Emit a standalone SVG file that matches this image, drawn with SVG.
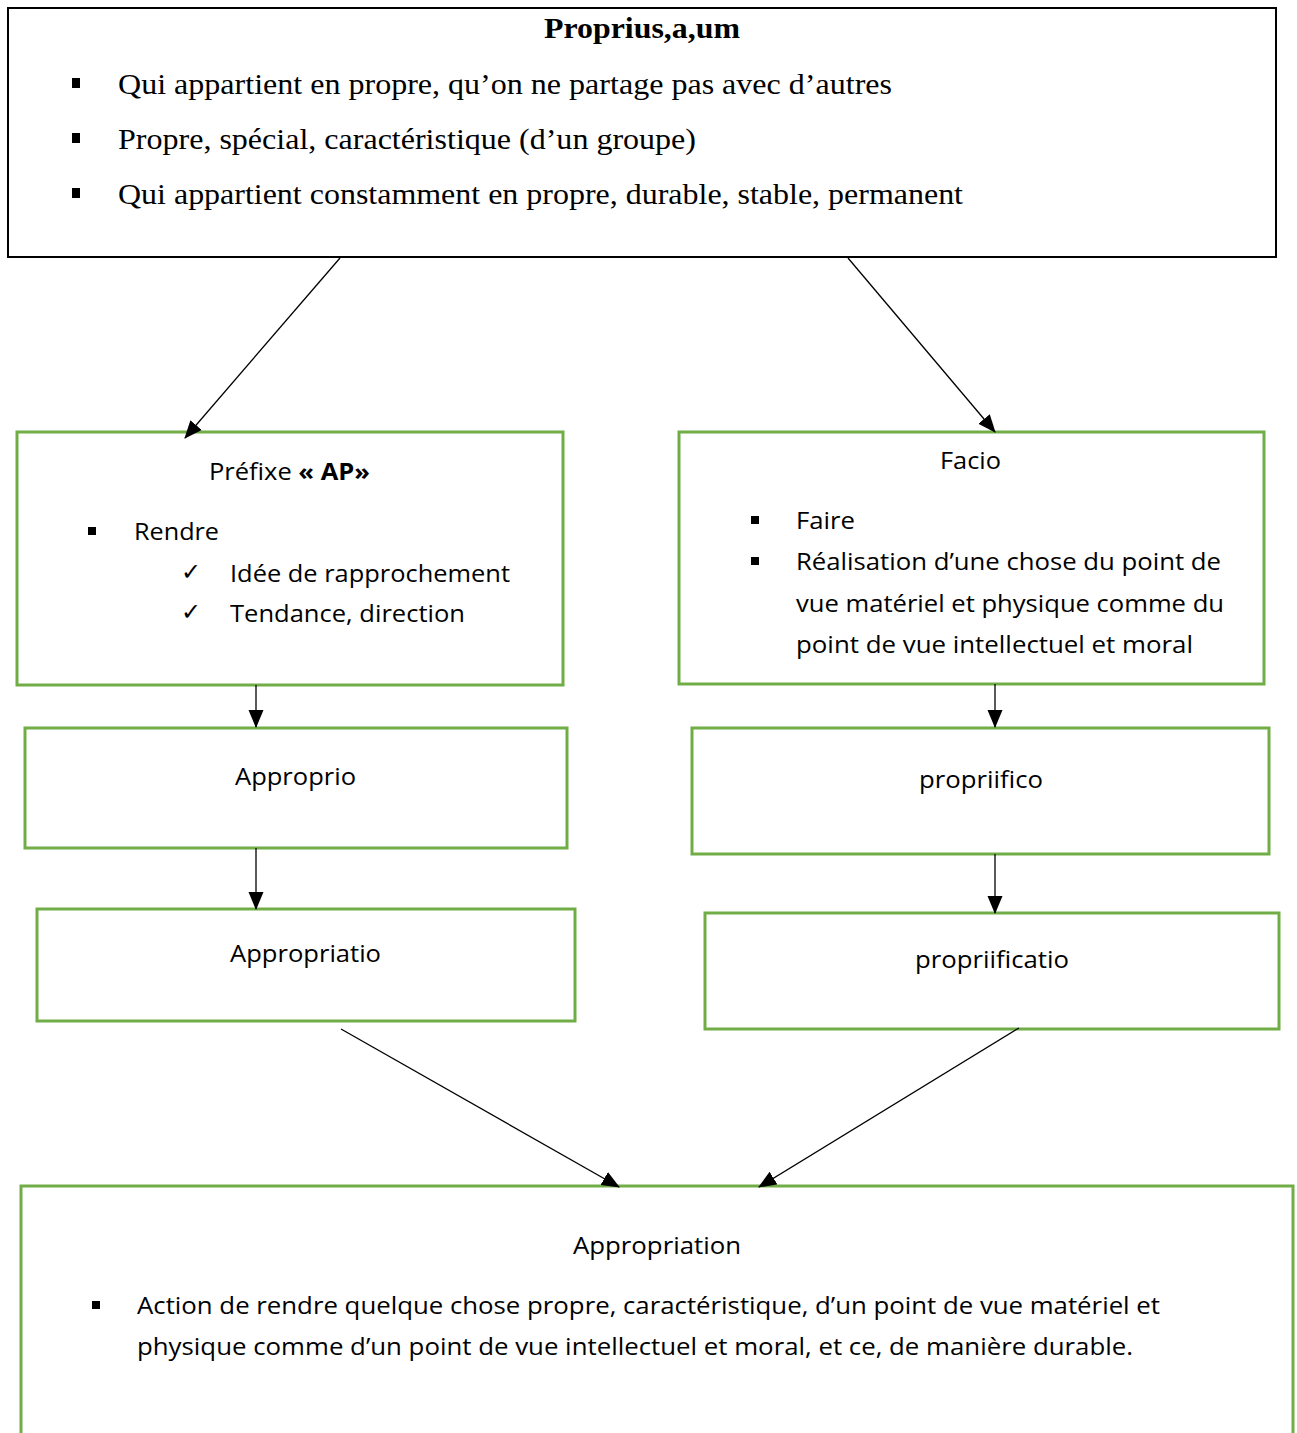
<svg xmlns="http://www.w3.org/2000/svg" width="1297" height="1433" viewBox="0 0 1297 1433">
<style>
.tnr{font-family:"Liberation Serif","Times New Roman",serif;font-size:29px;fill:#000}
.cal{font-family:"Open Sans","Liberation Sans",sans-serif;font-size:24px;fill:#000}
.gbox{fill:#fff;stroke:#70AD47;stroke-width:3}
.conn{stroke:#000;stroke-width:1.3;fill:none;marker-end:url(#ah)}
</style>
<defs>
<marker id="ah" markerUnits="userSpaceOnUse" markerWidth="18" markerHeight="16" refX="17" refY="8" orient="auto">
<path d="M0,0.5 L18,8 L0,15.5 Z" fill="#000"/>
</marker>
</defs>
<rect width="1297" height="1433" fill="#fff"/>
<g id="proprius">
<rect x="8" y="8" width="1268" height="249" fill="#fff" stroke="#000" stroke-width="2"/>
<text class="tnr" x="642" y="38" text-anchor="middle" font-weight="bold" textLength="196" lengthAdjust="spacingAndGlyphs">Proprius,a,um</text>
<rect x="72" y="78" width="8" height="10" fill="#000"/>
<text class="tnr" x="118" y="94" textLength="774" lengthAdjust="spacingAndGlyphs">Qui appartient en propre, qu’on ne partage pas avec d’autres</text>
<rect x="72" y="133" width="8" height="10" fill="#000"/>
<text class="tnr" x="118" y="149" textLength="578" lengthAdjust="spacingAndGlyphs">Propre, spécial, caractéristique (d’un groupe)</text>
<rect x="72" y="188" width="8" height="10" fill="#000"/>
<text class="tnr" x="118" y="204" textLength="845" lengthAdjust="spacingAndGlyphs">Qui appartient constamment en propre, durable, stable, permanent</text>
</g>
<g id="prefixe">
<rect class="gbox" x="17" y="432" width="546" height="253"/>
<text class="cal" x="209" y="480" textLength="161" lengthAdjust="spacingAndGlyphs">Préfixe <tspan font-weight="bold">« AP»</tspan></text>
<rect x="88" y="527" width="8" height="8" fill="#000"/>
<text class="cal" x="134" y="540" textLength="85" lengthAdjust="spacingAndGlyphs">Rendre</text>
<text class="cal" x="181" y="580" font-size="27">✓</text>
<text class="cal" x="230" y="582" textLength="280" lengthAdjust="spacingAndGlyphs">Idée de rapprochement</text>
<text class="cal" x="181" y="620" font-size="27">✓</text>
<text class="cal" x="230" y="622" textLength="235" lengthAdjust="spacingAndGlyphs">Tendance, direction</text>
</g>
<g id="facio">
<rect class="gbox" x="679" y="432" width="585" height="252"/>
<text class="cal" x="940" y="469" textLength="61" lengthAdjust="spacingAndGlyphs">Facio</text>
<rect x="751" y="516" width="8" height="8" fill="#000"/>
<text class="cal" x="796" y="529" textLength="59" lengthAdjust="spacingAndGlyphs">Faire</text>
<rect x="751" y="557" width="8" height="8" fill="#000"/>
<text class="cal" x="796" y="570" textLength="425" lengthAdjust="spacingAndGlyphs">Réalisation d’une chose du point de</text>
<text class="cal" x="796" y="612" textLength="428" lengthAdjust="spacingAndGlyphs">vue matériel et physique comme du</text>
<text class="cal" x="796" y="653" textLength="397" lengthAdjust="spacingAndGlyphs">point de vue intellectuel et moral</text>
</g>
<g id="approprio">
<rect class="gbox" x="25" y="728" width="542" height="120"/>
<text class="cal" x="235" y="785" textLength="121" lengthAdjust="spacingAndGlyphs">Approprio</text>
</g>
<g id="propriifico">
<rect class="gbox" x="692" y="728" width="577" height="126"/>
<text class="cal" x="919" y="788" textLength="124" lengthAdjust="spacingAndGlyphs">propriifico</text>
</g>
<g id="appropriatio">
<rect class="gbox" x="37" y="909" width="538" height="112"/>
<text class="cal" x="230" y="962" textLength="151" lengthAdjust="spacingAndGlyphs">Appropriatio</text>
</g>
<g id="propriificatio">
<rect class="gbox" x="705" y="913" width="574" height="116"/>
<text class="cal" x="915" y="968" textLength="154" lengthAdjust="spacingAndGlyphs">propriificatio</text>
</g>
<g id="appropriation">
<rect class="gbox" x="21" y="1186" width="1272" height="260"/>
<text class="cal" x="573" y="1254" textLength="168" lengthAdjust="spacingAndGlyphs">Appropriation</text>
<rect x="92" y="1301" width="8" height="8" fill="#000"/>
<text class="cal" x="137" y="1314" textLength="1023" lengthAdjust="spacingAndGlyphs">Action de rendre quelque chose propre, caractéristique, d’un point de vue matériel et</text>
<text class="cal" x="137" y="1355" textLength="996" lengthAdjust="spacingAndGlyphs">physique comme d’un point de vue intellectuel et moral, et ce, de manière durable.</text>
</g>
<g id="connectors">
<line class="conn" x1="340" y1="258" x2="185" y2="438"/>
<line class="conn" x1="848" y1="258" x2="995" y2="432"/>
<line class="conn" x1="256" y1="685" x2="256" y2="727"/>
<line class="conn" x1="995" y1="684" x2="995" y2="727"/>
<line class="conn" x1="256" y1="848" x2="256" y2="909"/>
<line class="conn" x1="995" y1="854" x2="995" y2="913"/>
<line class="conn" x1="341" y1="1029" x2="619" y2="1187"/>
<line class="conn" x1="1019" y1="1028" x2="759" y2="1187"/>
</g>
</svg>
